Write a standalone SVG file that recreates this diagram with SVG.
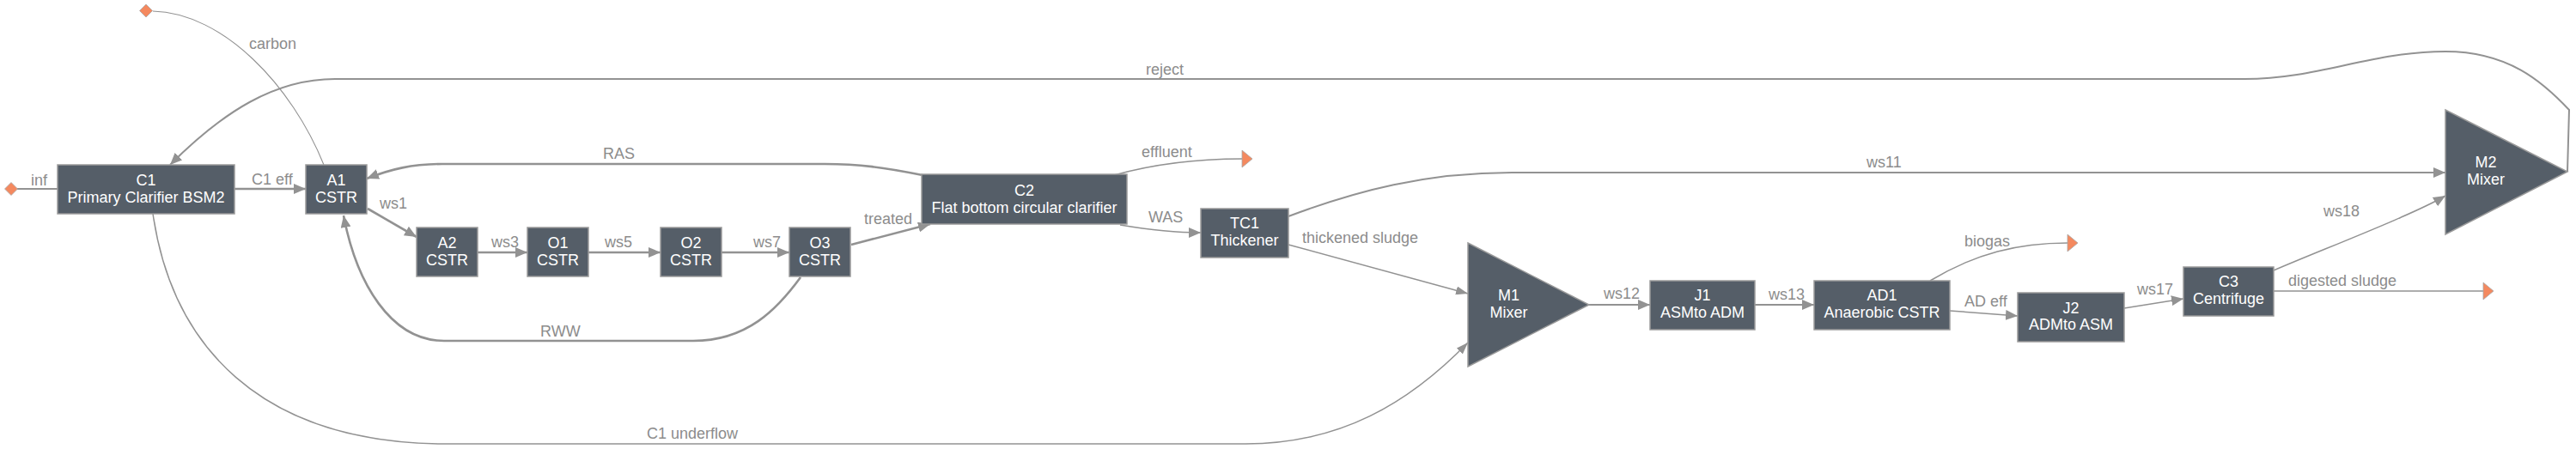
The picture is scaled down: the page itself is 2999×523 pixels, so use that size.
<svg xmlns="http://www.w3.org/2000/svg" width="2999" height="523" viewBox="0 0 2999 523">
<style>
.box{fill:#555e68;stroke:#9a9a9a;stroke-width:1.5}
.nt{font-family:"Liberation Sans",Arial,sans-serif;font-size:18px;fill:#ffffff;text-anchor:middle}
.lb{font-family:"Liberation Sans",Arial,sans-serif;font-size:18px;fill:#8c8c8c}
.e{fill:none;stroke:#929292}
.w3{stroke-width:2.6}
.w2{stroke-width:2}
.w1{stroke-width:1.5}
.w0{stroke-width:1.1}
.port{fill:#f4895f;stroke:#a8a8a8;stroke-width:0.8}
</style>
<defs>
<marker id="ah" viewBox="0 0 14 12" refX="14" refY="6" markerWidth="14" markerHeight="12" markerUnits="userSpaceOnUse" orient="auto">
<path d="M0,0 L14,6 L0,12 z" fill="#929292"/>
</marker>
<marker id="ahs" viewBox="0 0 14 10" refX="14" refY="5" markerWidth="14" markerHeight="10" markerUnits="userSpaceOnUse" orient="auto">
<path d="M0,0 L14,5 L0,10 z" fill="#929292"/>
</marker>
</defs>
<rect width="2999" height="523" fill="#ffffff"/>
<g id="connectors">
<path class="e w2" d="M20 220 L67 220"/>
<path class="e w0" d="M178 13 C260 15 340 100 377 192"/>
<path class="e w3" marker-end="url(#ah)" d="M273 220 L356 220"/>
<path class="e w3" marker-end="url(#ah)" d="M428 243 L485 276"/>
<path class="e w3" marker-end="url(#ah)" d="M556 294 L614 294"/>
<path class="e w3" marker-end="url(#ah)" d="M685 294 L769 294"/>
<path class="e w3" marker-end="url(#ah)" d="M840 294 L919 294"/>
<path class="e w3" marker-end="url(#ah)" d="M991 285 L1083 261"/>
<path class="e w3" marker-end="url(#ah)" d="M1074 204 C1030 195 1000 191 960 191 L515 191 C480 191 455 197 427 208"/>
<path class="e w3" marker-end="url(#ah)" d="M932 323 C905 360 870 397 807 397 L517 397 C455 397 415 330 400 251"/>
<path class="e w1" d="M1297 204 C1340 192 1390 185 1446 185"/>
<path class="e w1" marker-end="url(#ah)" d="M1304 262 C1340 268 1370 271 1398 271"/>
<path class="e w2" marker-end="url(#ah)" d="M1500 252 C1580 222 1660 201 1760 201 L2847 201"/>
<path class="e w1" marker-end="url(#ahs)" d="M1500 285 L1709 342"/>
<path class="e w1" marker-end="url(#ahs)" d="M178 249 C200 400 300 517 520 517 L1450 517 C1560 517 1640 470 1709 399"/>
<path class="e w2" marker-end="url(#ah)" d="M1850 355 L1921 355"/>
<path class="e w2" marker-end="url(#ah)" d="M2043 355 L2112 355"/>
<path class="e w1" d="M2247 327 C2300 295 2350 283 2407 283"/>
<path class="e w1" marker-end="url(#ah)" d="M2270 362 L2349 368"/>
<path class="e w1" marker-end="url(#ah)" d="M2473 359 L2542 348"/>
<path class="e w1" d="M2647 339 L2891 339"/>
<path class="e w1" marker-end="url(#ah)" d="M2647 315 C2700 292 2810 250 2847 228"/>
<path class="e w2" marker-end="url(#ah)" d="M2989 200 L2991 128 C2960 95 2920 60 2847 60 C2760 60 2700 92 2613 92 L390 92 C320 92 260 130 198 192"/>
</g>
<g id="labels">
<text class="lb" x="36" y="216">inf</text>
<text class="lb" x="290" y="57">carbon</text>
<text class="lb" x="293" y="215">C1 eff</text>
<text class="lb" x="442" y="243">ws1</text>
<text class="lb" x="702" y="185">RAS</text>
<text class="lb" x="572" y="288">ws3</text>
<text class="lb" x="704" y="288">ws5</text>
<text class="lb" x="877" y="288">ws7</text>
<text class="lb" x="629" y="392">RWW</text>
<text class="lb" x="1006" y="261">treated</text>
<text class="lb" x="1329" y="183">effluent</text>
<text class="lb" x="1337" y="259">WAS</text>
<text class="lb" x="1516" y="283">thickened sludge</text>
<text class="lb" x="2173" y="195">ws11</text>
<text class="lb" x="1334" y="87">reject</text>
<text class="lb" x="753" y="511">C1 underflow</text>
<text class="lb" x="1867" y="348">ws12</text>
<text class="lb" x="2059" y="349">ws13</text>
<text class="lb" x="2287" y="287">biogas</text>
<text class="lb" x="2287" y="357">AD eff</text>
<text class="lb" x="2488" y="343">ws17</text>
<text class="lb" x="2705" y="252">ws18</text>
<text class="lb" x="2664" y="333">digested sludge</text>
</g>
<g id="inf"><path class="port" d="M13 212.5 L20.5 220 L13 227.5 L5.5 220 z"/></g>
<g id="carbon"><path class="port" d="M170 5 L177.5 12.5 L170 20 L162.5 12.5 z"/></g>
<g id="effluent"><path class="port" d="M1446 175 L1458 185 L1446 195 z"/></g>
<g id="biogas"><path class="port" d="M2407 273 L2419 283 L2407 293 z"/></g>
<g id="digested_sludge"><path class="port" d="M2891 329 L2903 339 L2891 349 z"/></g>
<g id="C1"><rect class="box" x="67" y="192" width="206" height="57"/><text class="nt" x="170" y="216">C1</text><text class="nt" x="170" y="236">Primary Clarifier BSM2</text></g>
<g id="A1"><rect class="box" x="356" y="192" width="71" height="57"/><text class="nt" x="391.5" y="216">A1</text><text class="nt" x="391.5" y="236">CSTR</text></g>
<g id="A2"><rect class="box" x="485" y="265" width="71" height="57"/><text class="nt" x="520.5" y="288.5">A2</text><text class="nt" x="520.5" y="309">CSTR</text></g>
<g id="O1"><rect class="box" x="614" y="265" width="71" height="57"/><text class="nt" x="649.5" y="288.5">O1</text><text class="nt" x="649.5" y="309">CSTR</text></g>
<g id="O2"><rect class="box" x="769" y="265" width="71" height="57"/><text class="nt" x="804.5" y="288.5">O2</text><text class="nt" x="804.5" y="309">CSTR</text></g>
<g id="O3"><rect class="box" x="919" y="265" width="71" height="57"/><text class="nt" x="954.5" y="288.5">O3</text><text class="nt" x="954.5" y="309">CSTR</text></g>
<g id="C2"><rect class="box" x="1073" y="203" width="239" height="58"/><text class="nt" x="1192.5" y="227.5">C2</text><text class="nt" x="1192.5" y="247.5">Flat bottom circular clarifier</text></g>
<g id="TC1"><rect class="box" x="1398" y="243" width="102" height="57"/><text class="nt" x="1449" y="265.5">TC1</text><text class="nt" x="1449" y="286">Thickener</text></g>
<g id="M1"><path class="box" d="M1709 283 L1850 355 L1709 427 z"/><text class="nt" x="1756.5" y="349.5">M1</text><text class="nt" x="1756.5" y="369.5">Mixer</text></g>
<g id="J1"><rect class="box" x="1921" y="327" width="122" height="57"/><text class="nt" x="1982" y="350">J1</text><text class="nt" x="1982" y="369.5">ASMto ADM</text></g>
<g id="AD1"><rect class="box" x="2112" y="327" width="158" height="57"/><text class="nt" x="2191" y="350">AD1</text><text class="nt" x="2191" y="369.5">Anaerobic CSTR</text></g>
<g id="J2"><rect class="box" x="2349" y="341" width="124" height="57"/><text class="nt" x="2411" y="364.5">J2</text><text class="nt" x="2411" y="384">ADMto ASM</text></g>
<g id="C3"><rect class="box" x="2542" y="311" width="105" height="57"/><text class="nt" x="2594.5" y="333.5">C3</text><text class="nt" x="2594.5" y="353.5">Centrifuge</text></g>
<g id="M2"><path class="box" d="M2847 128 L2989 200 L2847 273 z"/><text class="nt" x="2894" y="195">M2</text><text class="nt" x="2894" y="215">Mixer</text></g>
</svg>
